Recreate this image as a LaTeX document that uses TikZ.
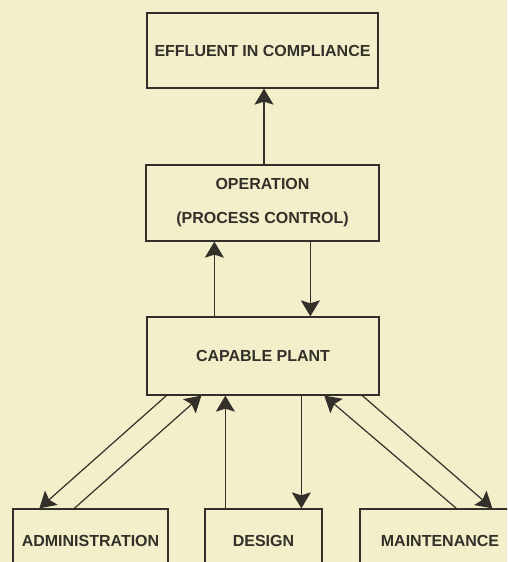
\documentclass[tikz,border=0pt]{standalone}
\usepackage{fontspec}
\setmainfont{Liberation Sans}
\usetikzlibrary{arrows.meta}
\definecolor{bg}{RGB}{244,239,203}
\definecolor{ink}{RGB}{50,48,40}
\begin{document}
\begin{tikzpicture}[x=1pt,y=1pt,
  box/.style={draw=ink,line width=1.3pt,rectangle,inner sep=0pt,text=ink,
    font=\fontsize{16}{34}\selectfont\bfseries,align=center},
  arr/.style={draw=ink,line width=1.2pt,-{Stealth[length=16pt,width=19pt,inset=3pt]}}]
\useasboundingbox (0,0) rectangle (507,562);
\fill[bg] (0,0) rectangle (507,562);
\clip (0,0) rectangle (507,562);
\node[box,minimum width=231pt,minimum height=75pt] (eff) at (262.5,511.5) {EFFLUENT IN COMPLIANCE};
\node[box,minimum width=233pt,minimum height=76pt] (op) at (262.5,359) {OPERATION\\(PROCESS CONTROL)};
\node[box,minimum width=232pt,minimum height=78pt] (cap) at (263,206) {CAPABLE PLANT};
\node[box,minimum width=155pt,minimum height=64pt] (adm) at (90.5,21) {ADMINISTRATION};
\node[box,minimum width=117pt,minimum height=64pt] (des) at (263.5,21) {DESIGN};
\node[box,minimum width=160pt,minimum height=64pt] (mnt) at (440,21) {MAINTENANCE};
% operation -> effluent
\draw[arr] ([xshift=1.5pt]op.north) -- ([xshift=1.5pt]eff.south);
% capable <-> operation
\draw[arr] ([xshift=68pt]cap.north west) -- ([xshift=68pt]cap.north west |- op.south);
\draw[arr] ([xshift=164pt]cap.north west |- op.south) -- ([xshift=164pt]cap.north west);
% administration
\draw[arr] ([xshift=20pt]cap.south west) -- ([xshift=27pt]adm.north west);
\draw[arr] ([xshift=62pt]adm.north west) -- ([xshift=55pt]cap.south west);
% design
\draw[arr] ([xshift=21pt]des.north west) -- ([xshift=21pt]des.north west |- cap.south);
\draw[arr] ([xshift=155pt]cap.south west) -- ([xshift=155pt]cap.south west |- des.north);
% maintenance
\draw[arr] ([xshift=97pt]mnt.north west) -- ([xshift=178pt]cap.south west);
\draw[arr] ([xshift=216pt]cap.south west) -- ([xshift=133pt]mnt.north west);
\end{tikzpicture}
\end{document}
